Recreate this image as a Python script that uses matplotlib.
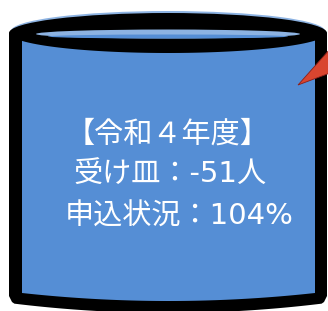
import numpy as np
import matplotlib
matplotlib.use("Agg")
import matplotlib.pyplot as plt
from matplotlib.patches import Ellipse, Polygon

# Latin glyphs from DejaVu (wider, like the original), CJK from Noto
plt.rcParams['font.family'] = ['DejaVu Sans', 'Noto Sans CJK JP']

# text shown inside the cylinder
lines = ["【令和４年度】", "受け皿：-51人", "申込状況：104%"]
line_x = [168, 170, 179]
line_y = [135, 175, 217]

body_blue = '#558ed5'
light_blue = '#8db3e2'

W, H = 328, 311
fig = plt.figure(figsize=(W / 100, H / 100), dpi=100)
ax = fig.add_axes([0, 0, 1, 1])
ax.set_xlim(0, W)
ax.set_ylim(H, 0)
ax.axis('off')

cx, cy = 168, 33
rx, ry = 159, 20


def arc(x0, x1, y_side, sag, n=60):
    # gentle downward bulge between two sides
    xs = np.linspace(x0, x1, n)
    t = (xs - (x0 + x1) / 2) / ((x1 - x0) / 2)
    return xs, y_side + sag * (1 - t ** 2)


# light rim slightly above the black top
ax.add_patch(Ellipse((cx, cy - 2), 2 * rx - 4, 2 * ry, color=light_blue, lw=0))

# outer black body
bx, by = arc(9, 327, 303, 10)
outer = [(9, cy)] + [(9, 296)] + [(12, 302)] + list(zip(bx[1:-1], by[1:-1])) + [(324, 302), (327, 296), (327, cy)]
ax.add_patch(Polygon(outer, closed=True, color='black', lw=0))
ax.add_patch(Ellipse((cx, cy), 2 * rx, 2 * ry, color='black', lw=0))

# blue inner body, top edge following the lower arc of the rim
xs = np.linspace(22, 315, 80)
top = cy + ry * np.sqrt(np.clip(1 - ((xs - cx) / rx) ** 2, 0, 1))
ix, iy = arc(22, 315, 293, 8)
inner = list(zip(xs, top)) + [(315, 293)] + list(zip(ix[::-1], iy[::-1])) + [(22, 293)]
ax.add_patch(Polygon(inner, closed=True, color=body_blue, lw=0))

# opening of the cylinder
ax.add_patch(Ellipse((cx, 34), 264, 9, color=light_blue, lw=0))
ax.add_patch(Ellipse((cx, 36.5), 240, 4, color=body_blue, lw=0))

# red arrow tip coming in from the right
ax.add_patch(Polygon([(298, 85), (330, 49), (330, 73)], closed=True,
                     facecolor='#d9452f', edgecolor='#8b1f1a', lw=0.6))

for s, x, y in zip(lines, line_x, line_y):
    ax.text(x, y, s, color='white', fontsize=21, ha='center', va='center')

fig.savefig('out.png', dpi=100)
